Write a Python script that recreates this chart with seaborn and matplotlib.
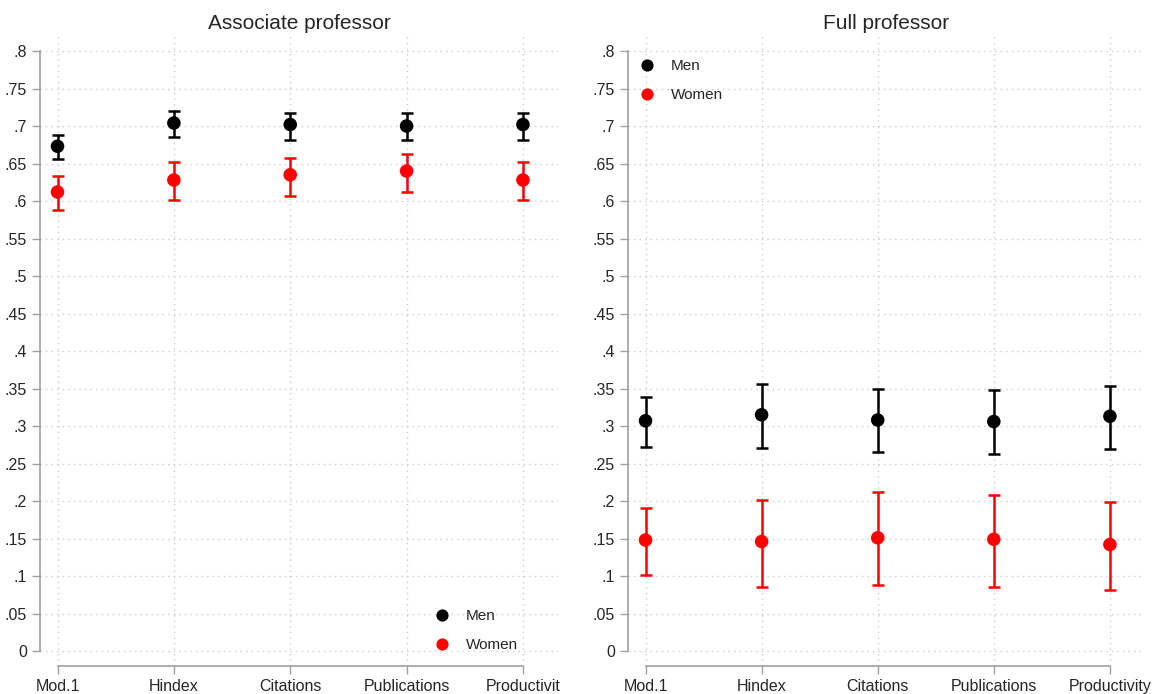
import matplotlib
matplotlib.use("Agg")
import matplotlib.pyplot as plt
import seaborn as sns
import numpy as np
import pandas as pd

models = ["Mod.1", "Hindex", "Citations", "Publications", "Productivity"]

# Associate professor
assoc_men = [0.673, 0.704, 0.702, 0.700, 0.702]
assoc_men_lo = [0.656, 0.685, 0.682, 0.681, 0.682]
assoc_men_hi = [0.688, 0.720, 0.718, 0.717, 0.718]
assoc_women = [0.612, 0.628, 0.635, 0.640, 0.628]
assoc_women_lo = [0.588, 0.602, 0.607, 0.612, 0.601]
assoc_women_hi = [0.633, 0.652, 0.658, 0.663, 0.652]

# Full professor
full_men = [0.307, 0.315, 0.308, 0.306, 0.313]
full_men_lo = [0.272, 0.271, 0.265, 0.263, 0.269]
full_men_hi = [0.339, 0.356, 0.349, 0.348, 0.354]
full_women = [0.148, 0.146, 0.151, 0.149, 0.142]
full_women_lo = [0.101, 0.085, 0.088, 0.086, 0.082]
full_women_hi = [0.191, 0.202, 0.212, 0.208, 0.199]

COLORS = {"Men": "black", "Women": "#ff0000"}

sns.set_style("white")
plt.rcParams["font.family"] = ["Liberation Sans", "DejaVu Sans"]


def make_df(men, men_lo, men_hi, women, women_lo, women_hi):
    rows = []
    for i in range(len(models)):
        rows.append({"pos": i, "group": "Men", "est": men[i], "lo": men_lo[i], "hi": men_hi[i]})
    for i in range(len(models)):
        rows.append({"pos": i, "group": "Women", "est": women[i], "lo": women_lo[i], "hi": women_hi[i]})
    return pd.DataFrame(rows)


def draw_panel(ax, df, title, xlabels, legend_loc, legend_anchor):
    ticks = np.arange(0, 0.801, 0.05)
    for y in ticks:
        ax.axhline(y, color="#cccccc", lw=1, ls=(0, (1, 3)), zorder=0)
    for x in range(len(models)):
        ax.axvline(x, color="#cccccc", lw=1, ls=(0, (1, 3)), zorder=0)

    for g, sub in df.groupby("group"):
        ax.errorbar(sub["pos"], sub["est"],
                    yerr=[sub["est"] - sub["lo"], sub["hi"] - sub["est"]],
                    fmt="none", ecolor=COLORS[g], elinewidth=1.8,
                    capsize=4.5, capthick=1.8, zorder=2)
    sns.scatterplot(data=df, x="pos", y="est", hue="group", palette=COLORS,
                    s=95, edgecolor="none", ax=ax, zorder=3)

    ax.set_xlim(-0.15, 4.3)
    ax.set_ylim(-0.02, 0.82)
    ax.set_yticks(ticks)
    ax.set_yticklabels(["0"] + [("%.2f" % t).lstrip("0").rstrip("0") for t in ticks[1:]])
    ax.set_xticks(range(len(models)))
    ax.set_xticklabels(xlabels)
    ax.set_xlabel("")
    ax.set_ylabel("")
    ax.set_title(title, fontsize=15, pad=5)

    for side in ["top", "right"]:
        ax.spines[side].set_visible(False)
    ax.spines["left"].set_bounds(0, 0.8)
    ax.spines["bottom"].set_bounds(0, 4)
    for side in ["left", "bottom"]:
        ax.spines[side].set_color("#a0a0a0")
        ax.spines[side].set_linewidth(1.2)
    ax.tick_params(axis="both", which="both", direction="out", length=6,
                   width=1, color="#a0a0a0", labelsize=11.5, left=True, bottom=True)
    ax.tick_params(axis="x", length=6, pad=3.5)

    handles, labels = ax.get_legend_handles_labels()
    ax.legend(handles, labels, loc=legend_loc, bbox_to_anchor=legend_anchor,
              frameon=False, fontsize=11, handletextpad=0.6, labelspacing=1.0,
              markerscale=0.9)


fig = plt.figure(figsize=(11.61, 6.94), dpi=100)
ax1 = fig.add_axes([0.0345, 0.0403, 0.446, 0.9078])
ax2 = fig.add_axes([0.541, 0.0403, 0.445, 0.9078])

df_assoc = make_df(assoc_men, assoc_men_lo, assoc_men_hi,
                   assoc_women, assoc_women_lo, assoc_women_hi)
df_full = make_df(full_men, full_men_lo, full_men_hi,
                  full_women, full_women_lo, full_women_hi)

left_labels = models[:4] + ["Productivit"]
draw_panel(ax1, df_assoc, "Associate professor", left_labels, "lower right", (0.95, 0.0))
draw_panel(ax2, df_full, "Full professor", models, "upper left", (-0.02, 0.985))

fig.savefig("out.png", dpi=100)
plt.close(fig)
